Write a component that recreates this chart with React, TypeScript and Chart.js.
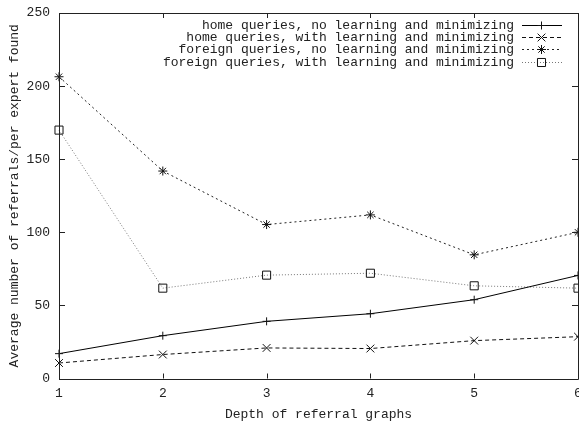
import { useEffect, useRef } from "react";
import { Chart, registerables } from "chart.js";
import { drawPoint } from "chart.js/helpers";

Chart.register(...registerables);

// Depth of the referral graph (x) and average referrals per expert found (y)
const depths = [1, 2, 3, 4, 5, 6];
const homeNoLearning = [17.0, 29.3, 39.1, 44.3, 53.9, 70.5];
const homeWithLearning = [10.6, 16.4, 20.9, 20.5, 25.9, 28.6];
const foreignNoLearning = [206.4, 141.9, 105.3, 111.9, 84.6, 100.0];
const foreignWithLearning = [169.9, 61.8, 70.7, 72.0, 63.4, 61.8];

const seriesLabels = [
  "home queries, no learning and minimizing",
  "home queries, with learning and minimizing",
  "foreign queries, no learning and minimizing",
  "foreign queries, with learning and minimizing",
];

const yMin = 0;
const yMax = 250;
const yStep = 50;

const FONT_FAMILY = "'Liberation Mono', 'DejaVu Sans Mono', monospace";
const FONT_SIZE = 13;
const INK = "#222";

const toPoints = (ys: number[]) => depths.map((x, i) => ({ x, y: ys[i] }));

// Closed frame with inward ticks on all four sides
const framePlugin = {
  id: "frame",
  afterDatasetsDraw(chart: any) {
    const { ctx, chartArea } = chart;
    const { left, right, top, bottom } = chartArea;
    const xs = chart.scales.x;
    const ys = chart.scales.y;
    ctx.save();
    ctx.strokeStyle = "#222";
    ctx.lineWidth = 1;
    ctx.beginPath();
    ctx.rect(Math.round(left) + 0.5, Math.round(top) + 0.5, Math.round(right - left), Math.round(bottom - top));
    xs.ticks.forEach((t: any) => {
      const px = Math.round(xs.getPixelForValue(t.value)) + 0.5;
      ctx.moveTo(px, bottom);
      ctx.lineTo(px, bottom - 5);
      ctx.moveTo(px, top);
      ctx.lineTo(px, top + 5);
    });
    ys.ticks.forEach((t: any) => {
      const py = Math.round(ys.getPixelForValue(t.value)) + 0.5;
      ctx.moveTo(left, py);
      ctx.lineTo(left + 6, py);
      ctx.moveTo(right, py);
      ctx.lineTo(right - 6, py);
    });
    ctx.stroke();
    ctx.restore();
  },
};

// Key in the upper right: right-aligned text followed by a line sample with its marker
const keyPlugin = {
  id: "key",
  afterDraw(chart: any) {
    const { ctx } = chart;
    const textRight = 514;
    const sampleLeft = 522;
    const sampleRight = 562;
    const firstRow = 25;
    const rowGap = 12.2;
    ctx.save();
    ctx.font = `${FONT_SIZE}px ${FONT_FAMILY}`;
    ctx.textAlign = "right";
    ctx.textBaseline = "middle";
    chart.data.datasets.forEach((ds: any, i: number) => {
      const y = Math.round(firstRow + i * rowGap) + 0.5;
      ctx.fillStyle = INK;
      ctx.fillText(ds.label, textRight, y);
      ctx.strokeStyle = ds.borderColor;
      ctx.lineWidth = ds.borderWidth;
      ctx.setLineDash(ds.borderDash || []);
      ctx.beginPath();
      ctx.moveTo(sampleLeft, y);
      ctx.lineTo(sampleRight, y);
      ctx.stroke();
      ctx.setLineDash([]);
      ctx.strokeStyle = ds.pointBorderColor;
      ctx.fillStyle = "rgba(0,0,0,0)";
      ctx.lineWidth = 1;
      drawPoint(ctx, { pointStyle: ds.pointStyle, radius: ds.pointRadius, borderWidth: 1, rotation: 0 }, 541.5, y);
    });
    ctx.restore();
  },
};

export default function App() {
  const canvasRef = useRef<HTMLCanvasElement | null>(null);

  useEffect(() => {
    if (!canvasRef.current) return;
    const common = {
      borderWidth: 1,
      pointBorderWidth: 1,
      pointBorderColor: "#111",
      pointBackgroundColor: "rgba(0,0,0,0)",
      pointHoverRadius: 4,
      fill: false,
      tension: 0,
      clip: false as const,
    };
    const chart = new Chart(canvasRef.current, {
      type: "line",
      data: {
        datasets: [
          {
            ...common,
            label: seriesLabels[0],
            data: toPoints(homeNoLearning),
            borderColor: "#000",
            pointStyle: "cross",
            pointRadius: 4,
          },
          {
            ...common,
            label: seriesLabels[1],
            data: toPoints(homeWithLearning),
            borderColor: "#111",
            borderDash: [4, 3],
            pointStyle: "crossRot",
            pointRadius: 5.5,
          },
          {
            ...common,
            label: seriesLabels[2],
            data: toPoints(foreignNoLearning),
            borderColor: "#222",
            borderDash: [2, 3],
            pointStyle: "star",
            pointRadius: 4.5,
          },
          {
            ...common,
            label: seriesLabels[3],
            data: toPoints(foreignWithLearning),
            borderColor: "#777",
            borderDash: [1, 2],
            pointStyle: "rect",
            pointRadius: 5.7,
          },
        ] as any,
      },
      options: {
        animation: false,
        responsive: false,
        devicePixelRatio: 1,
        layout: { autoPadding: false, padding: { top: 13, right: 1, bottom: 0, left: 0 } },
        plugins: {
          legend: { display: false },
          tooltip: { enabled: false },
        },
        font: { family: FONT_FAMILY, size: FONT_SIZE },
        scales: {
          x: {
            type: "linear",
            min: depths[0],
            max: depths[depths.length - 1],
            grid: { display: false, drawTicks: false },
            border: { display: false },
            ticks: {
              stepSize: 1,
              padding: 7,
              color: INK,
              font: { family: FONT_FAMILY, size: FONT_SIZE },
            },
            title: {
              display: true,
              text: "Depth of referral graphs",
              color: INK,
              font: { family: FONT_FAMILY, size: FONT_SIZE },
              padding: { top: 1, bottom: 0 },
            },
            afterFit(scale: any) {
              scale.height = 43.5;
              scale.paddingLeft = 0;
              scale.paddingRight = 0;
            },
          },
          y: {
            type: "linear",
            min: yMin,
            max: yMax,
            grid: { display: false, drawTicks: false },
            border: { display: false },
            ticks: {
              stepSize: yStep,
              padding: 9,
              color: INK,
              font: { family: FONT_FAMILY, size: FONT_SIZE },
            },
            title: {
              display: true,
              text: "Average number of referrals/per expert found",
              color: INK,
              font: { family: FONT_FAMILY, size: FONT_SIZE },
              padding: { top: 7, bottom: 0 },
            },
            afterFit(scale: any) {
              scale.width = 59;
              scale.paddingTop = 0;
              scale.paddingBottom = 0;
            },
          },
        },
      } as any,
      plugins: [framePlugin, keyPlugin],
    });
    return () => chart.destroy();
  }, []);

  return (
    <div style={{ position: "absolute", left: 0, top: 0, width: 579, height: 422, background: "#fff" }}>
      <canvas ref={canvasRef} width={579} height={422} style={{ display: "block" }} />
    </div>
  );
}
